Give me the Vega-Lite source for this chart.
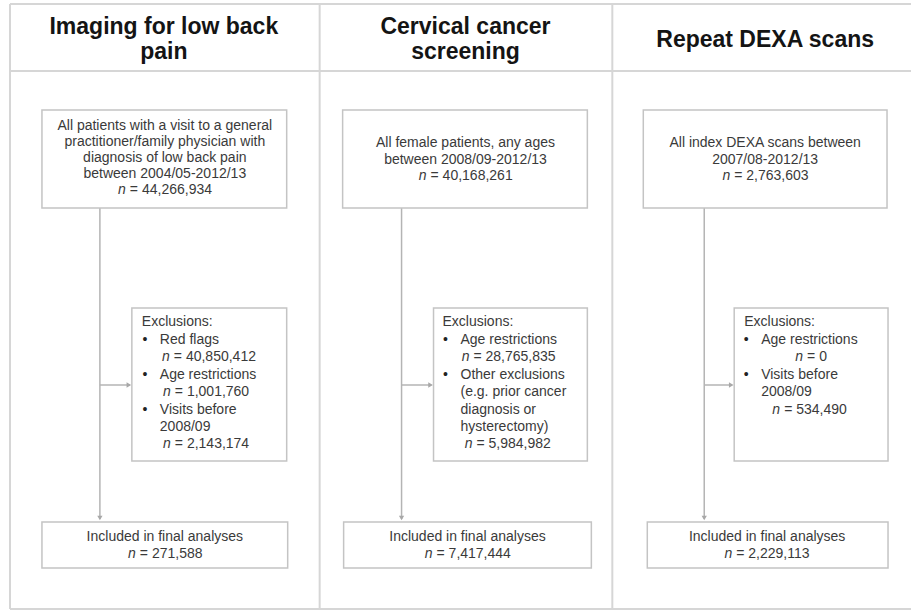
{
  "$schema": "https://vega.github.io/schema/vega-lite/v6.json",
  "width": 912,
  "height": 610,
  "padding": 0,
  "autosize": {"type": "fit", "contains": "padding"},
  "background": "white",
  "config": {"view": {"stroke": null}},
  "datasets": {
    "rules": [
      {"kind": "frame", "x": 10, "y": 4, "x2": 912, "y2": 4},
      {"kind": "frame", "x": 10, "y": 71, "x2": 912, "y2": 71},
      {"kind": "frame", "x": 10, "y": 609, "x2": 912, "y2": 609},
      {"kind": "frame", "x": 10, "y": 4, "x2": 10, "y2": 609},
      {"kind": "frame", "x": 320, "y": 4, "x2": 320, "y2": 609},
      {"kind": "frame", "x": 613, "y": 4, "x2": 613, "y2": 609},
      {"kind": "conn", "x": 100, "y": 208, "x2": 100, "y2": 519},
      {"kind": "conn", "x": 402, "y": 208, "x2": 402, "y2": 519},
      {"kind": "conn", "x": 705, "y": 208, "x2": 705, "y2": 519},
      {"kind": "conn", "x": 100, "y": 385, "x2": 130, "y2": 385},
      {"kind": "conn", "x": 402, "y": 385, "x2": 432, "y2": 385},
      {"kind": "conn", "x": 705, "y": 385, "x2": 733, "y2": 385}
    ],
    "boxes": [
      {"x": 42, "x2": 287, "y": 110, "y2": 208},
      {"x": 343, "x2": 588, "y": 110, "y2": 208},
      {"x": 644, "x2": 888, "y": 110, "y2": 208},
      {"x": 132, "x2": 287, "y": 308, "y2": 461},
      {"x": 434, "x2": 588, "y": 308, "y2": 461},
      {"x": 735, "x2": 889, "y": 308, "y2": 461},
      {"x": 42, "x2": 288, "y": 522, "y2": 568},
      {"x": 344, "x2": 592, "y": 522, "y2": 568},
      {"x": 648, "x2": 889, "y": 522, "y2": 568}
    ],
    "arrows": [
      {"x": 100, "y": 518, "dir": "down"},
      {"x": 402, "y": 518, "dir": "down"},
      {"x": 705, "y": 518, "dir": "down"},
      {"x": 129, "y": 385, "dir": "right"},
      {"x": 431, "y": 385, "dir": "right"},
      {"x": 732, "y": 385, "dir": "right"}
    ],
    "labels": [
      {"role": "head", "x": 164, "y": 27, "text": "Imaging for low back"},
      {"role": "head", "x": 164, "y": 52, "text": "pain"},
      {"role": "head", "x": 466, "y": 27, "text": "Cervical cancer"},
      {"role": "head", "x": 466, "y": 52, "text": "screening"},
      {"role": "head", "x": 766, "y": 40, "text": "Repeat DEXA scans"},
      {"role": "center", "x": 165, "y": 126, "text": "All patients with a visit to a general"},
      {"role": "center", "x": 165, "y": 142, "text": "practitioner/family physician with"},
      {"role": "center", "x": 165, "y": 158, "text": "diagnosis of low back pain"},
      {"role": "center", "x": 165, "y": 174, "text": "between 2004/05-2012/13"},
      {"role": "center", "x": 466, "y": 143, "text": "All female patients, any ages"},
      {"role": "center", "x": 466, "y": 160, "text": "between 2008/09-2012/13"},
      {"role": "center", "x": 766, "y": 143, "text": "All index DEXA scans between"},
      {"role": "center", "x": 766, "y": 160, "text": "2007/08-2012/13"},
      {"role": "center", "x": 165, "y": 537, "text": "Included in final analyses"},
      {"role": "center", "x": 468, "y": 537, "text": "Included in final analyses"},
      {"role": "center", "x": 768, "y": 537, "text": "Included in final analyses"},
      {"role": "left", "x": 142, "y": 322, "text": "Exclusions:"},
      {"role": "left", "x": 160, "y": 340, "text": "Red flags"},
      {"role": "left", "x": 160, "y": 375, "text": "Age restrictions"},
      {"role": "left", "x": 160, "y": 410, "text": "Visits before"},
      {"role": "left", "x": 160, "y": 427, "text": "2008/09"},
      {"role": "left", "x": 443, "y": 322, "text": "Exclusions:"},
      {"role": "left", "x": 461, "y": 340, "text": "Age restrictions"},
      {"role": "left", "x": 461, "y": 375, "text": "Other exclusions"},
      {"role": "left", "x": 461, "y": 392, "text": "(e.g. prior cancer"},
      {"role": "left", "x": 461, "y": 410, "text": "diagnosis or"},
      {"role": "left", "x": 461, "y": 427, "text": "hysterectomy)"},
      {"role": "left", "x": 745, "y": 322, "text": "Exclusions:"},
      {"role": "left", "x": 762, "y": 340, "text": "Age restrictions"},
      {"role": "left", "x": 762, "y": 375, "text": "Visits before"},
      {"role": "left", "x": 762, "y": 392, "text": "2008/09"},
      {"role": "bullet", "x": 145, "y": 340, "text": "•"},
      {"role": "bullet", "x": 145, "y": 375, "text": "•"},
      {"role": "bullet", "x": 145, "y": 410, "text": "•"},
      {"role": "bullet", "x": 446, "y": 340, "text": "•"},
      {"role": "bullet", "x": 446, "y": 375, "text": "•"},
      {"role": "bullet", "x": 747, "y": 340, "text": "•"},
      {"role": "bullet", "x": 747, "y": 375, "text": "•"}
    ],
    "nlines": [
      {"x": 126, "y": 190, "rest": "= 44,266,934"},
      {"x": 427, "y": 176, "rest": "= 40,168,261"},
      {"x": 731, "y": 176, "rest": "= 2,763,603"},
      {"x": 136, "y": 554, "rest": "= 271,588"},
      {"x": 433, "y": 554, "rest": "= 7,417,444"},
      {"x": 733, "y": 554, "rest": "= 2,229,113"},
      {"x": 170, "y": 357, "rest": "= 40,850,412"},
      {"x": 171, "y": 392, "rest": "= 1,001,760"},
      {"x": 171, "y": 444, "rest": "= 2,143,174"},
      {"x": 470, "y": 357, "rest": "= 28,765,835"},
      {"x": 473, "y": 444, "rest": "= 5,984,982"},
      {"x": 804, "y": 357, "rest": "= 0"},
      {"x": 781, "y": 410, "rest": "= 534,490"}
    ]
  },
  "encoding": {
    "x": {"field": "x", "type": "quantitative", "scale": {"domain": [0, 912], "nice": false, "zero": false}, "axis": null},
    "y": {"field": "y", "type": "quantitative", "scale": {"domain": [0, 610], "nice": false, "zero": false, "reverse": true}, "axis": null}
  },
  "layer": [
    {
      "data": {"name": "rules"},
      "transform": [{"filter": "datum.kind === 'frame'"}],
      "mark": {"type": "rule", "color": "#d6d6d6", "strokeWidth": 2},
      "encoding": {"x2": {"field": "x2"}, "y2": {"field": "y2"}}
    },
    {
      "data": {"name": "rules"},
      "transform": [{"filter": "datum.kind === 'conn'"}],
      "mark": {"type": "rule", "color": "#b4b4b4", "strokeWidth": 1.5},
      "encoding": {"x2": {"field": "x2"}, "y2": {"field": "y2"}}
    },
    {
      "data": {"name": "boxes"},
      "mark": {"type": "rect", "fill": "white", "stroke": "#c4c4c4", "strokeWidth": 1.5},
      "encoding": {"x2": {"field": "x2"}, "y2": {"field": "y2"}}
    },
    {
      "data": {"name": "arrows"},
      "mark": {"type": "point", "filled": true, "color": "#a8a8a8", "size": 28, "opacity": 1},
      "encoding": {
        "shape": {"field": "dir", "type": "nominal", "scale": {"domain": ["down", "right"], "range": ["triangle-down", "triangle-right"]}, "legend": null}
      }
    },
    {
      "data": {"name": "labels"},
      "transform": [{"filter": "datum.role === 'head'"}],
      "mark": {"type": "text", "font": "Liberation Sans", "fontSize": 23, "fontWeight": "bold", "color": "#141414", "align": "center", "baseline": "middle"},
      "encoding": {"text": {"field": "text"}}
    },
    {
      "data": {"name": "labels"},
      "transform": [{"filter": "datum.role === 'center'"}],
      "mark": {"type": "text", "font": "Liberation Sans", "fontSize": 14, "color": "#3a3a3a", "align": "center", "baseline": "middle"},
      "encoding": {"text": {"field": "text"}}
    },
    {
      "data": {"name": "labels"},
      "transform": [{"filter": "datum.role === 'left'"}],
      "mark": {"type": "text", "font": "Liberation Sans", "fontSize": 14, "color": "#3a3a3a", "align": "left", "baseline": "middle"},
      "encoding": {"text": {"field": "text"}}
    },
    {
      "data": {"name": "labels"},
      "transform": [{"filter": "datum.role === 'bullet'"}],
      "mark": {"type": "text", "font": "Liberation Sans", "fontSize": 14, "color": "#222222", "align": "center", "baseline": "middle"},
      "encoding": {"text": {"field": "text"}}
    },
    {
      "data": {"name": "nlines"},
      "mark": {"type": "text", "font": "Liberation Sans", "fontSize": 14, "fontStyle": "italic", "color": "#3a3a3a", "align": "right", "baseline": "middle", "text": "n"},
      "encoding": {}
    },
    {
      "data": {"name": "nlines"},
      "mark": {"type": "text", "font": "Liberation Sans", "fontSize": 14, "color": "#3a3a3a", "align": "left", "baseline": "middle", "dx": 4},
      "encoding": {"text": {"field": "rest"}}
    }
  ]
}
